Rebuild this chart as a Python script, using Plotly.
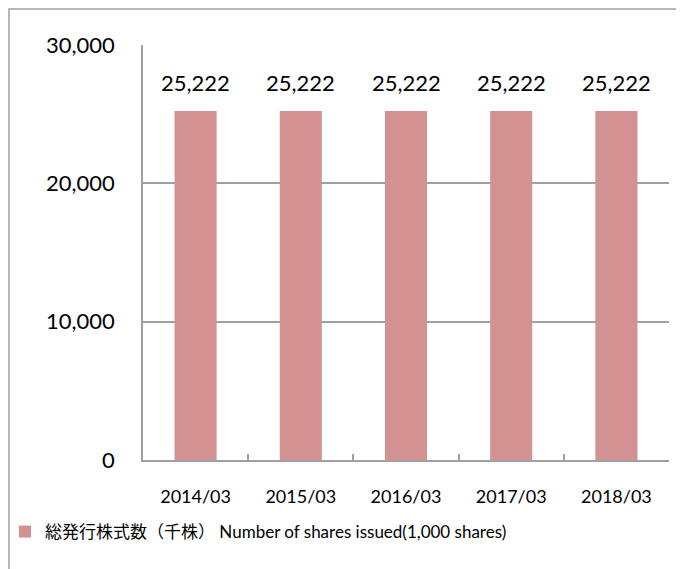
import plotly.graph_objects as go

categories = ["2014/03", "2015/03", "2016/03", "2017/03", "2018/03"]
shares = [25222, 25222, 25222, 25222, 25222]
label_texts = ["25,222", "25,222", "25,222", "25,222", "25,222"]
series_name = "総発行株式数（千株） Number of shares issued(1,000 shares)"
y_ticks = [0, 10000, 20000, 30000]

FONT = "Lato, 'Noto Sans CJK JP', sans-serif"
BAR = "rgb(210,146,146)"
GRID = "rgb(160,160,160)"

# page body has an 8px default margin; work in page pixels and offset
OFF = 8
W, H = 684 - OFF, 569 - OFF
L, T = 143 - OFF, 45 - OFF
R = W - (669 - OFF)
B = H - (460 - OFF)
pw, ph = W - L - R, H - T - B

def px_x(p):  # page pixel -> paper x
    return (p - OFF - L) / pw

def px_y(p):  # page pixel -> paper y
    return (H - B - (p - OFF)) / ph

fig = go.Figure()
fig.add_trace(go.Bar(
    x=categories, y=shares, name=series_name,
    marker=dict(color=BAR, line=dict(width=0)),
    width=0.4, showlegend=True,
))

for c, v, t in zip(categories, shares, label_texts):
    fig.add_annotation(x=c, y=v, text=t, showarrow=False, yanchor="middle",
                       yshift=29, font=dict(family=FONT, size=22, color="black"))

fig.add_shape(type="rect", xref="paper", yref="paper",
              x0=px_x(9), x1=px_x(720), y0=px_y(620), y1=px_y(9),
              line=dict(color=GRID, width=1.5), fillcolor="rgba(0,0,0,0)", layer="below")

fig.update_layout(
    width=W, height=H,
    margin=dict(l=L, r=R, t=T, b=B, pad=0, autoexpand=False),
    paper_bgcolor="white", plot_bgcolor="white",
    font=dict(family=FONT, color="black"),
    bargap=0.6,
    showlegend=True,
    legend=dict(orientation="h", x=px_x(5), y=px_y(532), xanchor="left", yanchor="middle",
                font=dict(family=FONT, size=17, color="black"), bgcolor="rgba(0,0,0,0)"),
    xaxis=dict(
        type="category", showline=True, linecolor=GRID, linewidth=1.5, automargin=False,
        ticks="inside", tickson="boundaries", ticklen=6, tickcolor=GRID, tickwidth=1.5,
        showgrid=False, tickfont=dict(family=FONT, size=18, color="black"),
        ticklabelstandoff=20,
    ),
    yaxis=dict(
        range=[0, 30000], tickvals=y_ticks, tickformat=",", automargin=False,
        showline=True, linecolor=GRID, linewidth=1.5,
        ticks="inside", ticklen=9, tickcolor=GRID, tickwidth=1.5,
        showgrid=True, gridcolor=GRID, gridwidth=1.5, zeroline=False,
        tickfont=dict(family=FONT, size=22, color="black"),
        ticklabelstandoff=22,
    ),
)

fig.write_html("out.html")
